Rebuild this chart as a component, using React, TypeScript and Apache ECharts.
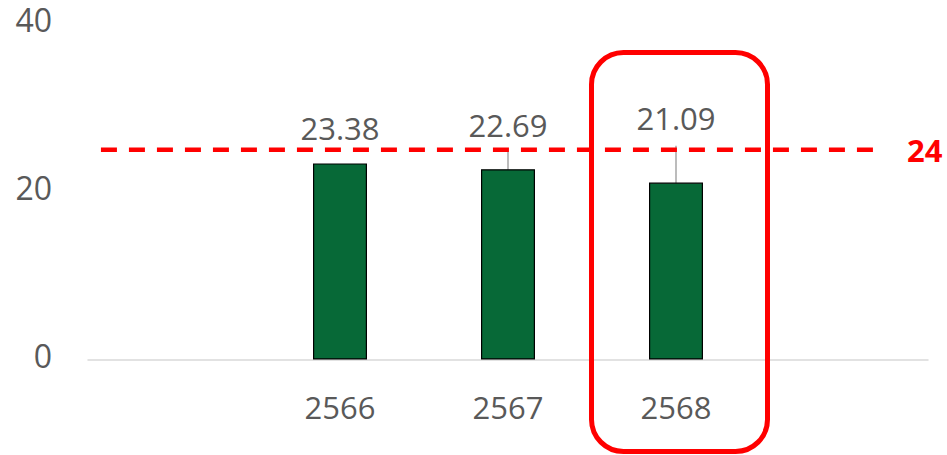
import React, { useEffect, useRef } from "react";
import * as echarts from "echarts";

const categories = ["", "2566", "2567", "2568", ""];
const values: (number | string)[] = ["-", 23.38, 22.69, 21.09, "-"];
const yTicks = [0, 20, 40];
const targetValue = 25;
const targetLabel = "24";
// target line extent in category-index space (category i spans [i, i+1])
const targetStart = 0.077;
const targetEnd = 4.673;

// style: vertical lift of each data label, and whether it gets a leader line
const labelLift = [0, -3.3, -12.1, -31.9, 0];
const labelLeader = [false, false, true, true, false];

const FONT = "'Open Sans', 'Noto Sans', sans-serif";
const GREY = "#595959";

export default function App() {
  const ref = useRef<HTMLDivElement>(null);
  useEffect(() => {
    if (!ref.current) return;
    const chart = echarts.init(ref.current, undefined, { renderer: "svg" });
    chart.setOption({
      animation: false,
      backgroundColor: "#ffffff",
      grid: { left: 88, right: 19, top: 24, bottom: 95.5, containLabel: false },
      xAxis: [
        {
          type: "category",
          data: categories,
          boundaryGap: true,
          axisLine: { show: true, lineStyle: { color: "#d9d9d9", width: 1.5 } },
          axisTick: { show: false },
          axisLabel: {
            color: GREY,
            fontSize: 31,
            lineHeight: 31,
            fontFamily: FONT,
            margin: 32,
          },
        },
        { type: "value", min: 0, max: categories.length, show: false },
      ],
      yAxis: {
        type: "value",
        min: yTicks[0],
        max: yTicks[yTicks.length - 1],
        interval: yTicks[1] - yTicks[0],
        axisLine: { show: false },
        axisTick: { show: false },
        splitLine: { show: false },
        axisLabel: {
          margin: 36,
          formatter: "{t|{value}}",
          rich: {
            t: {
              color: GREY,
              fontSize: 32,
              lineHeight: 26,
              fontFamily: FONT,
              padding: [0, 0, 9, 0],
            },
          },
        },
      },
      series: [
        {
          type: "bar",
          xAxisIndex: 0,
          barWidth: 54,
          data: values.map((v, i) => ({
            value: v,
            labelLine: { show: labelLeader[i] },
          })),
          itemStyle: { color: "#076937", borderColor: "#000000", borderWidth: 1.2 },
          label: {
            show: true,
            position: "top",
            distance: 5,
            color: GREY,
            fontSize: 31,
            lineHeight: 31,
            fontFamily: FONT,
            padding: [0, 0, 12, 0],
            formatter: (p: any) => (typeof p.value === "number" ? p.value.toFixed(2) : ""),
          },
          labelLine: { show: false, lineStyle: { color: "#a6a6a6", width: 1.5 } },
          labelLayout: (p: any) => ({ dy: labelLift[p.dataIndex] || 0 }),
          z: 2,
        },
        {
          type: "line",
          xAxisIndex: 1,
          symbol: "none",
          data: [
            [targetStart, targetValue],
            [targetEnd, targetValue],
          ],
          lineStyle: { color: "#ff0000", width: 4.5, type: [16, 12] },
          endLabel: {
            show: true,
            distance: 34,
            formatter: targetLabel,
            color: "#ff0000",
            fontWeight: "bold",
            fontSize: 31,
            fontFamily: FONT,
          },
          z: 3,
        },
      ],
      graphic: [
        {
          type: "rect",
          shape: { x: 591.5, y: 52.5, width: 176, height: 399, r: 32 },
          style: { fill: "none", stroke: "#ff0000", lineWidth: 5 },
          z: 10,
        },
      ],
    });
    return () => chart.dispose();
  }, []);
  return <div ref={ref} style={{ width: 947, height: 455, position: "absolute", left: 0, top: 0 }} />;
}
